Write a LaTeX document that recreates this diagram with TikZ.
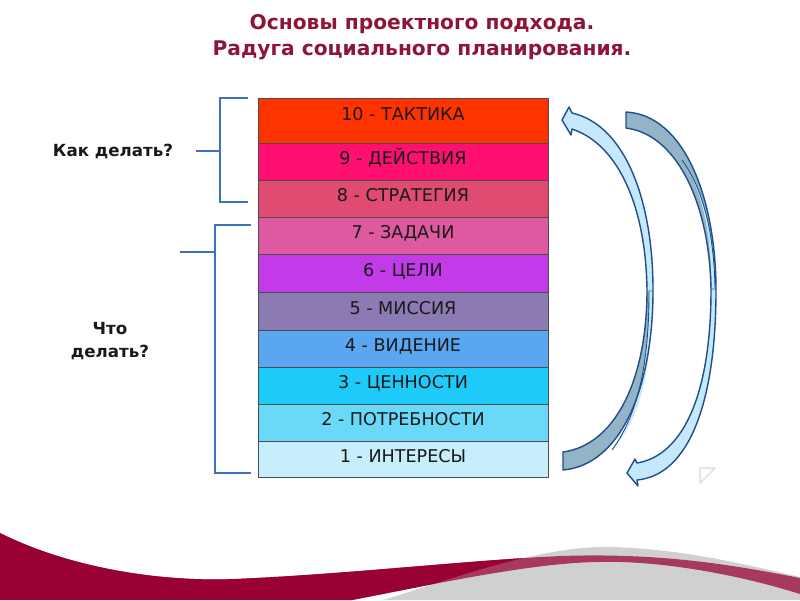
\documentclass[tikz,border=0pt]{standalone}
\usepackage{fontspec}
\newfontfamily\dv{DejaVu Sans}
\definecolor{ttl}{HTML}{8E1538}
\definecolor{c10}{HTML}{FF3300}
\definecolor{c9}{HTML}{FF1070}
\definecolor{c8}{HTML}{E04B72}
\definecolor{c7}{HTML}{DE5AA0}
\definecolor{c6}{HTML}{C33AE8}
\definecolor{c5}{HTML}{8C7BB3}
\definecolor{c4}{HTML}{5AA6F0}
\definecolor{c3}{HTML}{1ECBF8}
\definecolor{c2}{HTML}{6AD9F8}
\definecolor{c1}{HTML}{C6EEFB}
\definecolor{brk}{HTML}{3B73C3}
\definecolor{arrline}{HTML}{1F4E8C}
\definecolor{arrlight}{HTML}{C5E9FA}
\definecolor{arrgray}{HTML}{93B3C6}
\definecolor{swred}{HTML}{990033}
\definecolor{swgray}{HTML}{D0D0D0}
\tikzset{
  rowbox/.style={draw=black!70, line width=0.5pt, minimum width=5.8cm, inner sep=0pt,
    font=\dv\fontsize{10}{12}\selectfont, text=black!90, text height=0.73em, text depth=0.35em},
  bracket/.style={draw=brk, line width=1.2pt},
  sidelabel/.style={font=\dv\bfseries\fontsize{9.5}{13}\selectfont, text=black!90, align=center},
  arrout/.style={draw=arrline, line width=0.8pt, line join=round},
}
\begin{document}
\begin{tikzpicture}[x=0.02cm,y=-0.02cm]
\useasboundingbox (0,0) rectangle (800,600);
\fill[white] (0,0) rectangle (800,600);

% bottom swoosh
\fill[swred] (0,533) .. controls (70,568) and (160,582) .. (235,579)
  .. controls (350,574) and (470,560) .. (561,556)
  .. controls (650,553) and (720,562) .. (800,578) -- (800,594)
  .. controls (740,575) and (660,560) .. (597,562)
  .. controls (530,563) and (430,585) .. (352,600) -- (0,600) -- cycle;
\fill[swgray] (383,600) .. controls (450,580) and (540,545) .. (612,547)
  .. controls (680,549) and (740,563) .. (800,577) -- (800,600) -- cycle;
\fill[swred, fill opacity=0.72] (0,533) .. controls (70,568) and (160,582) .. (235,579)
  .. controls (350,574) and (470,560) .. (561,556)
  .. controls (650,553) and (720,562) .. (800,578) -- (800,594)
  .. controls (740,575) and (660,560) .. (597,562)
  .. controls (530,563) and (430,585) .. (352,600) -- (0,600) -- cycle;

% title
\node[font=\dv\bfseries\fontsize{11.5}{15}\selectfont, text=ttl, align=center] (title) at (422,37)
  {Основы проектного подхода.\\Радуга социального планирования.};

% rows
\node[rowbox, fill=c10, minimum height=0.9cm, text depth=0.75em] (r10) at (403,120.5) {10 - ТАКТИКА};
\node[rowbox, fill=c9, minimum height=0.74cm] (r9) at (403,161.5) {9 - ДЕЙСТВИЯ};
\node[rowbox, fill=c8, minimum height=0.74cm] (r8) at (403,198.5) {8 - СТРАТЕГИЯ};
\node[rowbox, fill=c7, minimum height=0.74cm] (r7) at (403,235.5) {7 - ЗАДАЧИ};
\node[rowbox, fill=c6, minimum height=0.76cm] (r6) at (403,273) {6 - ЦЕЛИ};
\node[rowbox, fill=c5, minimum height=0.76cm] (r5) at (403,311) {5 - МИССИЯ};
\node[rowbox, fill=c4, minimum height=0.74cm] (r4) at (403,348.5) {4 - ВИДЕНИЕ};
\node[rowbox, fill=c3, minimum height=0.74cm] (r3) at (403,385.5) {3 - ЦЕННОСТИ};
\node[rowbox, fill=c2, minimum height=0.74cm] (r2) at (403,422.5) {2 - ПОТРЕБНОСТИ};
\node[rowbox, fill=c1, minimum height=0.72cm] (r1) at (403,459) {1 - ИНТЕРЕСЫ};

% side labels
\node[sidelabel] (kak) at (113,151) {Как делать?};
\node[sidelabel] (chto) at (110,341) {Что\\делать?};

% brackets
\coordinate (b1t) at (248,98);
\coordinate (b1b) at (248,202);
\coordinate (b1m) at (220,151);
\draw[bracket] (b1t) -| (b1m) |- (b1b);
\draw[bracket] ([xshift=0.34cm]kak.east) -- (b1m);
\coordinate (b2t) at (251,225);
\coordinate (b2b) at (251,473);
\coordinate (b2m) at (215,252);
\coordinate (b2l) at (180,252);
\draw[bracket] (b2t) -| (b2m) |- (b2b);
\draw[bracket] (b2l) -- (b2m);

% left curved arrow (head at top)
\fill[arrgray] (653,290) .. controls (653,390) and (620,465) .. (563,470)
  -- (563,452) .. controls (615,445) and (647,380) .. (647,290) -- cycle;
\fill[arrlight] (652.5,292) .. controls (652,370) and (640,420) .. (612,450)
  .. controls (636,417) and (649,370) .. (649,292) -- cycle;
\fill[arrlight] (653,290) .. controls (653,200) and (625,125) .. (572,113)
  -- (569,107) -- (562,120) -- (571,135) -- (572,129)
  .. controls (620,145) and (646,210) .. (647,290) -- cycle;
\draw[arrout] (647,290) .. controls (646,210) and (620,145) .. (572,129)
  -- (571,135) -- (562,120) -- (569,107) -- (572,113)
  .. controls (625,125) and (653,200) .. (653,290)
  .. controls (653,390) and (620,465) .. (563,470)
  -- (563,452) .. controls (615,445) and (647,380) .. (647,290);
\draw[arrline, line width=0.5pt] (649,292) .. controls (649,370) and (636,417) .. (612,450);

% right curved arrow (head at bottom)
\fill[arrgray] (716,290) .. controls (716,200) and (685,115) .. (626,112)
  -- (626,128) .. controls (680,135) and (710,210) .. (711,290) -- cycle;
\fill[arrlight] (711.5,288) .. controls (711,230) and (702,190) .. (682,160)
  .. controls (704,190) and (714,235) .. (715,288) -- cycle;
\fill[arrlight] (716,290) .. controls (716,400) and (690,475) .. (637,480)
  -- (638,486) -- (627,473) -- (635,459) -- (637,463)
  .. controls (685,455) and (711,390) .. (711,290) -- cycle;
\draw[arrout] (711,290) .. controls (710,210) and (680,135) .. (626,128)
  -- (626,112) .. controls (685,115) and (716,200) .. (716,290)
  .. controls (716,400) and (690,475) .. (637,480)
  -- (638,486) -- (627,473) -- (635,459) -- (637,463)
  .. controls (685,455) and (711,390) .. (711,290);
\draw[arrline, line width=0.5pt] (682,160) .. controls (704,190) and (714,235) .. (715,288);

% faint play triangle
\draw[black!15, line width=0.6pt, line join=round] (700,468) -- (715,468) -- (700,483) -- cycle;
\end{tikzpicture}
\end{document}
